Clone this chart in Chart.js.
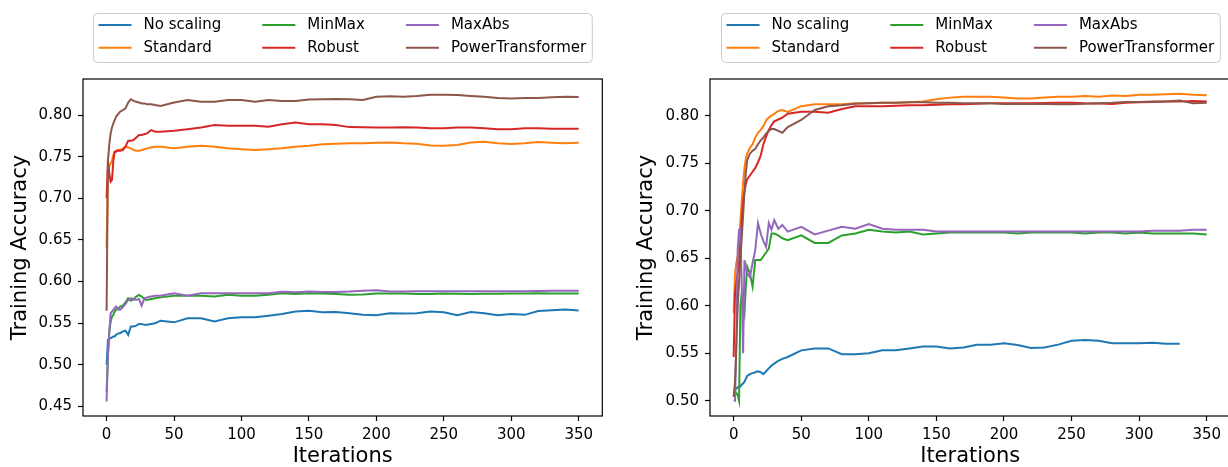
<!DOCTYPE html>
<html>
<head>
<meta charset="utf-8">
<script src="https://cdn.jsdelivr.net/npm/chart.js@4.4.0/dist/chart.umd.min.js"></script>
<style>
html, body { margin: 0; padding: 0; background: #fff; overflow: hidden; width: 1228px; height: 467px; }
#c1 { position: absolute; left: 0; top: 0; }
#c2 { position: absolute; left: 614px; top: 0; }
</style>
</head>
<body>
<canvas id="c1" width="614" height="467"></canvas>
<canvas id="c2" width="620" height="467"></canvas>
<script>
const labels = ['No scaling', 'Standard', 'MinMax', 'Robust', 'MaxAbs', 'PowerTransformer'];
const colors = ['#1f77b4', '#ff7f0e', '#2ca02c', '#d62728', '#9467bd', '#8c564b'];

const iterations = [0, 1, 2, 3, 4, 5, 6, 7, 8, 9, 10, 12, 14, 16, 18, 20, 22, 24, 26, 28, 30, 33, 36,
  40, 50, 60, 70, 80, 90, 100, 110, 120, 130, 140, 150, 160, 170, 180, 190, 200, 210, 220, 230, 240,
  250, 260, 270, 280, 290, 300, 310, 320, 330, 340, 350];
const xTicks = [0, 50, 100, 150, 200, 250, 300, 350];
const leftYTicks = [0.45, 0.50, 0.55, 0.60, 0.65, 0.70, 0.75, 0.80];
const rightYTicks = [0.50, 0.55, 0.60, 0.65, 0.70, 0.75, 0.80];

// left panel
const leftNoScaling = [0.500, 0.530, 0.531, 0.532, 0.533, 0.534, 0.534, 0.536, 0.537, 0.538, 0.538,
  0.540, 0.541, 0.536, 0.546, 0.546, 0.547, 0.549, 0.549, 0.548, 0.548, 0.549, 0.550,
  0.553, 0.551, 0.556, 0.556, 0.552, 0.556, 0.557, 0.557, 0.559, 0.561, 0.564, 0.565, 0.563, 0.5635,
  0.562, 0.560, 0.5595, 0.562, 0.5615, 0.562, 0.564, 0.563, 0.5595, 0.5635, 0.562, 0.5595, 0.561,
  0.560, 0.5645, 0.5656, 0.5664, 0.5652];
const leftStandard = [0.640, 0.735, 0.738, 0.742, 0.745, 0.752, 0.756, 0.757, 0.758, 0.758, 0.758,
  0.760, 0.762, 0.761, 0.760, 0.758, 0.757, 0.757, 0.758, 0.759, 0.760, 0.761, 0.762,
  0.762, 0.760, 0.762, 0.763, 0.762, 0.760, 0.759, 0.758, 0.759, 0.760, 0.762, 0.763, 0.765, 0.7655,
  0.766, 0.766, 0.7668, 0.767, 0.766, 0.7655, 0.7635, 0.7632, 0.764, 0.767, 0.768, 0.766, 0.7652,
  0.766, 0.7676, 0.7668, 0.766, 0.7668];
const leftMinMax = [0.468, 0.510, 0.540, 0.552, 0.558, 0.560, 0.564, 0.566, 0.567, 0.568, 0.570,
  0.571, 0.575, 0.580, 0.577, 0.579, 0.582, 0.584, 0.582, 0.579, 0.578, 0.579, 0.580,
  0.581, 0.583, 0.583, 0.583, 0.582, 0.584, 0.583, 0.583, 0.584, 0.586, 0.585, 0.586, 0.5856, 0.585,
  0.584, 0.5845, 0.5856, 0.5856, 0.5856, 0.585, 0.585, 0.5855, 0.5853, 0.585, 0.5853, 0.5853, 0.5856,
  0.5856, 0.5858, 0.5856, 0.5856, 0.5856];
const leftRobust = [0.700, 0.745, 0.730, 0.720, 0.722, 0.745, 0.756, 0.756, 0.757, 0.757, 0.757,
  0.758, 0.762, 0.769, 0.769, 0.770, 0.773, 0.776, 0.776, 0.777, 0.778, 0.782, 0.780,
  0.780, 0.781, 0.783, 0.785, 0.788, 0.787, 0.787, 0.787, 0.786, 0.789, 0.791, 0.789, 0.789, 0.788,
  0.7855, 0.7852, 0.785, 0.785, 0.7852, 0.785, 0.784, 0.784, 0.785, 0.785, 0.784, 0.783, 0.7828,
  0.784, 0.784, 0.7836, 0.7836, 0.7836];
const leftMaxAbs = [0.456, 0.514, 0.540, 0.562, 0.564, 0.566, 0.568, 0.570, 0.568, 0.566, 0.566,
  0.569, 0.573, 0.578, 0.580, 0.578, 0.578, 0.579, 0.571, 0.580, 0.581, 0.582, 0.583,
  0.583, 0.586, 0.583, 0.586, 0.586, 0.586, 0.586, 0.586, 0.586, 0.5876, 0.587, 0.588, 0.5875, 0.5875,
  0.588, 0.589, 0.5895, 0.588, 0.588, 0.5884, 0.5884, 0.5884, 0.5884, 0.5884, 0.5884, 0.5884, 0.5884,
  0.5884, 0.5886, 0.5888, 0.5888, 0.5888];
const leftPower = [0.565, 0.745, 0.765, 0.778, 0.785, 0.790, 0.794, 0.798, 0.800, 0.802, 0.804,
  0.806, 0.808, 0.815, 0.819, 0.817, 0.816, 0.815, 0.814, 0.814, 0.813, 0.813, 0.812,
  0.811, 0.815, 0.818, 0.816, 0.816, 0.818, 0.818, 0.816, 0.818, 0.817, 0.817, 0.8186, 0.819, 0.8192,
  0.819, 0.818, 0.822, 0.8225, 0.822, 0.823, 0.8244, 0.8245, 0.824, 0.823, 0.822, 0.8205, 0.8198,
  0.8205, 0.8205, 0.8215, 0.822, 0.8216];

// right panel (No scaling stops at 330)
const rightNoScaling = [0.509, 0.511, 0.513, 0.514, 0.515, 0.515, 0.517, 0.518, 0.520, 0.523, 0.526,
  0.528, 0.529, 0.530, 0.531, 0.530, 0.528, 0.531, 0.534, 0.537, 0.539, 0.542, 0.544,
  0.546, 0.553, 0.555, 0.555, 0.549, 0.549, 0.550, 0.553, 0.553, 0.555, 0.557, 0.557, 0.555, 0.556,
  0.559, 0.559, 0.5605, 0.5586, 0.5555, 0.556, 0.559, 0.563, 0.5639, 0.563, 0.5604, 0.5604, 0.5605,
  0.561, 0.560, 0.560];
const rightStandard = [0.592, 0.634, 0.645, 0.652, 0.665, 0.690, 0.711, 0.730, 0.745, 0.755, 0.760,
  0.766, 0.770, 0.777, 0.782, 0.785, 0.789, 0.795, 0.798, 0.800, 0.802, 0.805, 0.806,
  0.804, 0.810, 0.812, 0.812, 0.812, 0.813, 0.813, 0.8137, 0.8137, 0.814, 0.815, 0.8173, 0.819, 0.820,
  0.820, 0.820, 0.819, 0.818, 0.818, 0.819, 0.820, 0.820, 0.8207, 0.820, 0.8212, 0.8207, 0.822,
  0.822, 0.8225, 0.823, 0.822, 0.8214];
const rightMinMax = [0.504, 0.506, 0.508, 0.506, 0.500, 0.600, 0.613, 0.600, 0.592, 0.620, 0.641,
  0.634, 0.620, 0.648, 0.648, 0.648, 0.652, 0.656, 0.660, 0.676, 0.676, 0.674, 0.671,
  0.669, 0.674, 0.666, 0.666, 0.674, 0.676, 0.680, 0.678, 0.677, 0.678, 0.675, 0.676, 0.677, 0.677,
  0.677, 0.677, 0.677, 0.676, 0.677, 0.677, 0.677, 0.677, 0.676, 0.677, 0.677, 0.676, 0.677,
  0.676, 0.676, 0.676, 0.676, 0.675];
const rightRobust = [0.546, 0.613, 0.625, 0.635, 0.645, 0.668, 0.690, 0.710, 0.720, 0.728, 0.733,
  0.737, 0.741, 0.745, 0.751, 0.758, 0.770, 0.778, 0.785, 0.790, 0.794, 0.796, 0.798,
  0.802, 0.804, 0.804, 0.803, 0.807, 0.810, 0.810, 0.810, 0.8105, 0.811, 0.811, 0.8115, 0.812, 0.812,
  0.8125, 0.813, 0.813, 0.813, 0.813, 0.8133, 0.8137, 0.8137, 0.813, 0.8128, 0.8123, 0.8135, 0.814,
  0.8145, 0.815, 0.815, 0.8154, 0.815];
const rightMaxAbs = [0.500, 0.500, 0.560, 0.660, 0.680, 0.681, 0.620, 0.550, 0.648, 0.640, 0.634,
  0.630, 0.645, 0.659, 0.687, 0.676, 0.668, 0.662, 0.687, 0.680, 0.690, 0.681, 0.685,
  0.678, 0.683, 0.675, 0.679, 0.683, 0.681, 0.686, 0.681, 0.680, 0.680, 0.680, 0.678, 0.678, 0.678,
  0.678, 0.678, 0.678, 0.678, 0.678, 0.678, 0.678, 0.678, 0.678, 0.678, 0.678, 0.678, 0.678,
  0.679, 0.679, 0.679, 0.680, 0.680];
const rightPower = [0.504, 0.520, 0.560, 0.600, 0.625, 0.648, 0.672, 0.695, 0.720, 0.740, 0.753,
  0.760, 0.763, 0.765, 0.770, 0.774, 0.777, 0.781, 0.784, 0.786, 0.786, 0.784, 0.782,
  0.788, 0.7955, 0.806, 0.810, 0.811, 0.8125, 0.813, 0.8135, 0.8137, 0.814, 0.814, 0.8137, 0.8135, 0.813,
  0.813, 0.813, 0.8123, 0.8123, 0.8123, 0.8123, 0.812, 0.812, 0.8125, 0.813, 0.8135, 0.8144, 0.8144,
  0.8148, 0.815, 0.816, 0.813, 0.8137];

const FONT = 'DejaVu Sans';

// matplotlib-like full frame around the axes
const boxPlugin = {
  id: 'box',
  afterDatasetsDraw(chart) {
    const { ctx, chartArea: a } = chart;
    ctx.save();
    ctx.strokeStyle = '#000';
    ctx.lineWidth = 1.2;
    ctx.strokeRect(a.left, a.top, a.right - a.left, a.bottom - a.top);
    ctx.restore();
  }
};

// 3-column legend, filled column by column like matplotlib's ncol=3
const legendPlugin = {
  id: 'mplLegend',
  afterDraw(chart) {
    const ctx = chart.ctx;
    const a = chart.chartArea;
    const sets = chart.data.datasets;
    const handle = 33, textPad = 12, colGap = 41, padL = 5, padR = 6;
    ctx.save();
    ctx.font = '15px "' + FONT + '"';
    const cols = [];
    for (let c = 0; c < 3; c++) {
      const items = [sets[2 * c], sets[2 * c + 1]];
      cols.push({ items, w: Math.max(...items.map(d => ctx.measureText(d.label).width)) });
    }
    const boxW = padL + padR + colGap * 2 + cols.reduce((s, c) => s + handle + textPad + c.w, 0);
    const boxX = Math.round((a.left + a.right) / 2 - boxW / 2) + 0.5;
    const boxY = 13.5, boxH = 49;
    ctx.beginPath();
    ctx.roundRect(boxX, boxY, boxW, boxH, 4);
    ctx.fillStyle = 'rgba(255,255,255,0.8)';
    ctx.fill();
    ctx.strokeStyle = '#cccccc';
    ctx.lineWidth = 1;
    ctx.stroke();
    let x = boxX + padL;
    cols.forEach(col => {
      col.items.forEach((d, r) => {
        const y = 25 + r * 22.7;
        ctx.strokeStyle = d.borderColor;
        ctx.lineWidth = 2;
        ctx.beginPath();
        ctx.moveTo(x, y);
        ctx.lineTo(x + handle, y);
        ctx.stroke();
        ctx.fillStyle = '#000';
        ctx.textBaseline = 'middle';
        ctx.textAlign = 'left';
        ctx.fillText(d.label, x + handle + textPad, y);
      });
      x += handle + textPad + col.w + colGap;
    });
    ctx.restore();
  }
};

function buildChart(id, series, yTicks, yMin, yMax, yAxisWidth, titlePad, padRight) {
  return new Chart(document.getElementById(id), {
    type: 'line',
    data: {
      datasets: series.map((vals, i) => ({
        label: labels[i],
        data: vals.map((v, j) => ({ x: iterations[j], y: v })),
        borderColor: colors[i],
        backgroundColor: colors[i],
        borderWidth: 2,
        pointRadius: 0,
        tension: 0,
        order: labels.length - i
      }))
    },
    options: {
      responsive: false,
      animation: false,
      events: [],
      layout: { padding: { top: 79, right: padRight, left: 0, bottom: 0 } },
      plugins: { legend: { display: false }, tooltip: { enabled: false } },
      scales: {
        x: {
          type: 'linear',
          min: -17.5,
          max: 367.5,
          afterBuildTicks: s => { s.ticks = xTicks.map(v => ({ value: v })); },
          afterFit: s => { s.height = 51; },
          ticks: { color: '#000', font: { family: FONT, size: 15 }, padding: 5, maxRotation: 0,
            callback: v => String(v) },
          grid: { drawOnChartArea: false, drawTicks: true, tickLength: 5, tickColor: '#000', tickWidth: 1.2 },
          border: { display: false },
          title: { display: true, text: 'Iterations', color: '#000',
            font: { family: FONT, size: 21, lineHeight: 1 }, padding: { top: 0, bottom: 0 } }
        },
        y: {
          type: 'linear',
          min: yMin,
          max: yMax,
          afterBuildTicks: s => { s.ticks = yTicks.map(v => ({ value: v })); },
          afterFit: s => { s.width = yAxisWidth; },
          ticks: { color: '#000', font: { family: FONT, size: 15 }, padding: 6,
            callback: v => v.toFixed(2) },
          grid: { drawOnChartArea: false, drawTicks: true, tickLength: 5, tickColor: '#000', tickWidth: 1.2 },
          border: { display: false },
          title: { display: true, text: 'Training Accuracy', color: '#000',
            font: { family: FONT, size: 21, lineHeight: 1 }, padding: { top: titlePad, bottom: 0 } }
        }
      }
    },
    plugins: [boxPlugin, legendPlugin]
  });
}

buildChart('c1',
  [leftNoScaling, leftStandard, leftMinMax, leftRobust, leftMaxAbs, leftPower],
  leftYTicks, 0.4385, 0.8433, 83, 10.5, 11.7);
buildChart('c2',
  [rightNoScaling, rightStandard, rightMinMax, rightRobust, rightMaxAbs, rightPower],
  rightYTicks, 0.4839, 0.8386, 96, 22.5, 3.6);
</script>
</body>
</html>
